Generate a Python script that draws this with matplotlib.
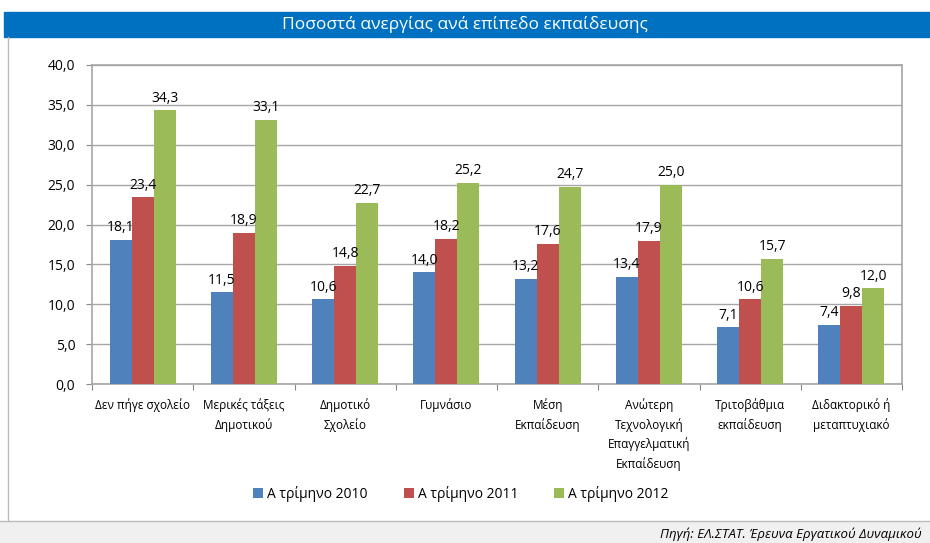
import matplotlib.pyplot as plt
import numpy as np
from matplotlib.patches import Rectangle
from matplotlib.lines import Line2D

plt.rcParams['font.family'] = ['Open Sans', 'DejaVu Sans']

categories = ['Δεν πήγε σχολείο', 'Μερικές τάξεις\nΔημοτικού', 'Δημοτικό\nΣχολείο',
              'Γυμνάσιο', 'Μέση\nΕκπαίδευση',
              'Ανώτερη\nΤεχνολογική\nΕπαγγελματική\nΕκπαίδευση',
              'Τριτοβάθμια\nεκπαίδευση', 'Διδακτορικό ή\nμεταπτυχιακό']
q2010 = [18.1, 11.5, 10.6, 14.0, 13.2, 13.4, 7.1, 7.4]
q2011 = [23.4, 18.9, 14.8, 18.2, 17.6, 17.9, 10.6, 9.8]
q2012 = [34.3, 33.1, 22.7, 25.2, 24.7, 25.0, 15.7, 12.0]
series_names = ['Α τρίμηνο 2010', 'Α τρίμηνο 2011', 'Α τρίμηνο 2012']
colors = ['#4F81BD', '#C0504D', '#9BBB59']
title = 'Ποσοστά ανεργίας ανά επίπεδο εκπαίδευσης'
source = 'Πηγή: ΕΛ.ΣΤΑΤ. Έρευνα Εργατικού Δυναμικού'

W, H = 930, 543
fig = plt.figure(figsize=(W / 100, H / 100), dpi=100)

# title bar
fig.patches.append(Rectangle((4 / W, 1 - 37 / H), 1, 25 / H, transform=fig.transFigure,
                             color='#0070C0', zorder=0))
fig.text(0.5, 1 - 24.5 / H, title, color='white', fontsize=12.5, ha='center', va='center')
# left border and footer
fig.lines.append(Line2D([8 / W, 8 / W], [1 - 520 / H, 1 - 37 / H], transform=fig.transFigure,
                        color='#BBBBBB', lw=1))
fig.patches.append(Rectangle((0, 0), 1, 22 / H, transform=fig.transFigure,
                             facecolor='#F0F0F0', edgecolor='none', zorder=0))
fig.lines.append(Line2D([0, 1], [22 / H, 22 / H], transform=fig.transFigure,
                        color='#BBBBBB', lw=1))
fig.text(1 - 8 / W, 9 / H, source, fontsize=9.5, style='italic', ha='right', va='center')

ax = fig.add_axes([92 / W, 1 - 384 / H, 810 / W, 319 / H])
x = np.arange(len(categories))
w = 0.218
for k, (vals, c, name) in enumerate(zip([q2010, q2011, q2012], colors, series_names)):
    pos = x + (k - 1) * w
    ax.bar(pos, vals, width=w, color=c, label=name, zorder=3)
    for p, v in zip(pos, vals):
        ax.text(p, v + 0.6, f'{v:.1f}'.replace('.', ','), ha='center', va='bottom',
                fontsize=10, zorder=4)

ax.set_xlim(-0.5, len(categories) - 0.5)
ax.set_ylim(0, 40)
yt = np.arange(0, 41, 5)
ax.set_yticks(yt)
ax.set_yticklabels([f'{v:.1f}'.replace('.', ',') for v in yt], fontsize=10)
ax.yaxis.grid(True, color='#A6A6A6', lw=1, zorder=0)
ax.set_xticks(np.arange(-0.5, len(categories), 1))
ax.set_xticklabels([])
ax.set_xticks(x, minor=True)
ax.set_xticklabels(categories, minor=True, fontsize=8.5, va='top', ha='center',
                   linespacing=1.55)
ax.tick_params(axis='x', which='minor', length=0, pad=10)
ax.tick_params(axis='x', which='major', length=4, color='#888888')
ax.tick_params(axis='y', length=4, color='#888888', pad=8)
for s in ax.spines.values():
    s.set_color('#A6A6A6')
    s.set_linewidth(1.2)

ax.legend(loc='upper center', bbox_to_anchor=(0.5 - 36 / 810, -0.28), ncol=3, frameon=False,
          fontsize=10, handlelength=0.7, handleheight=0.7, handletextpad=0.3,
          columnspacing=2.6)

fig.savefig('out.png', dpi=100)
